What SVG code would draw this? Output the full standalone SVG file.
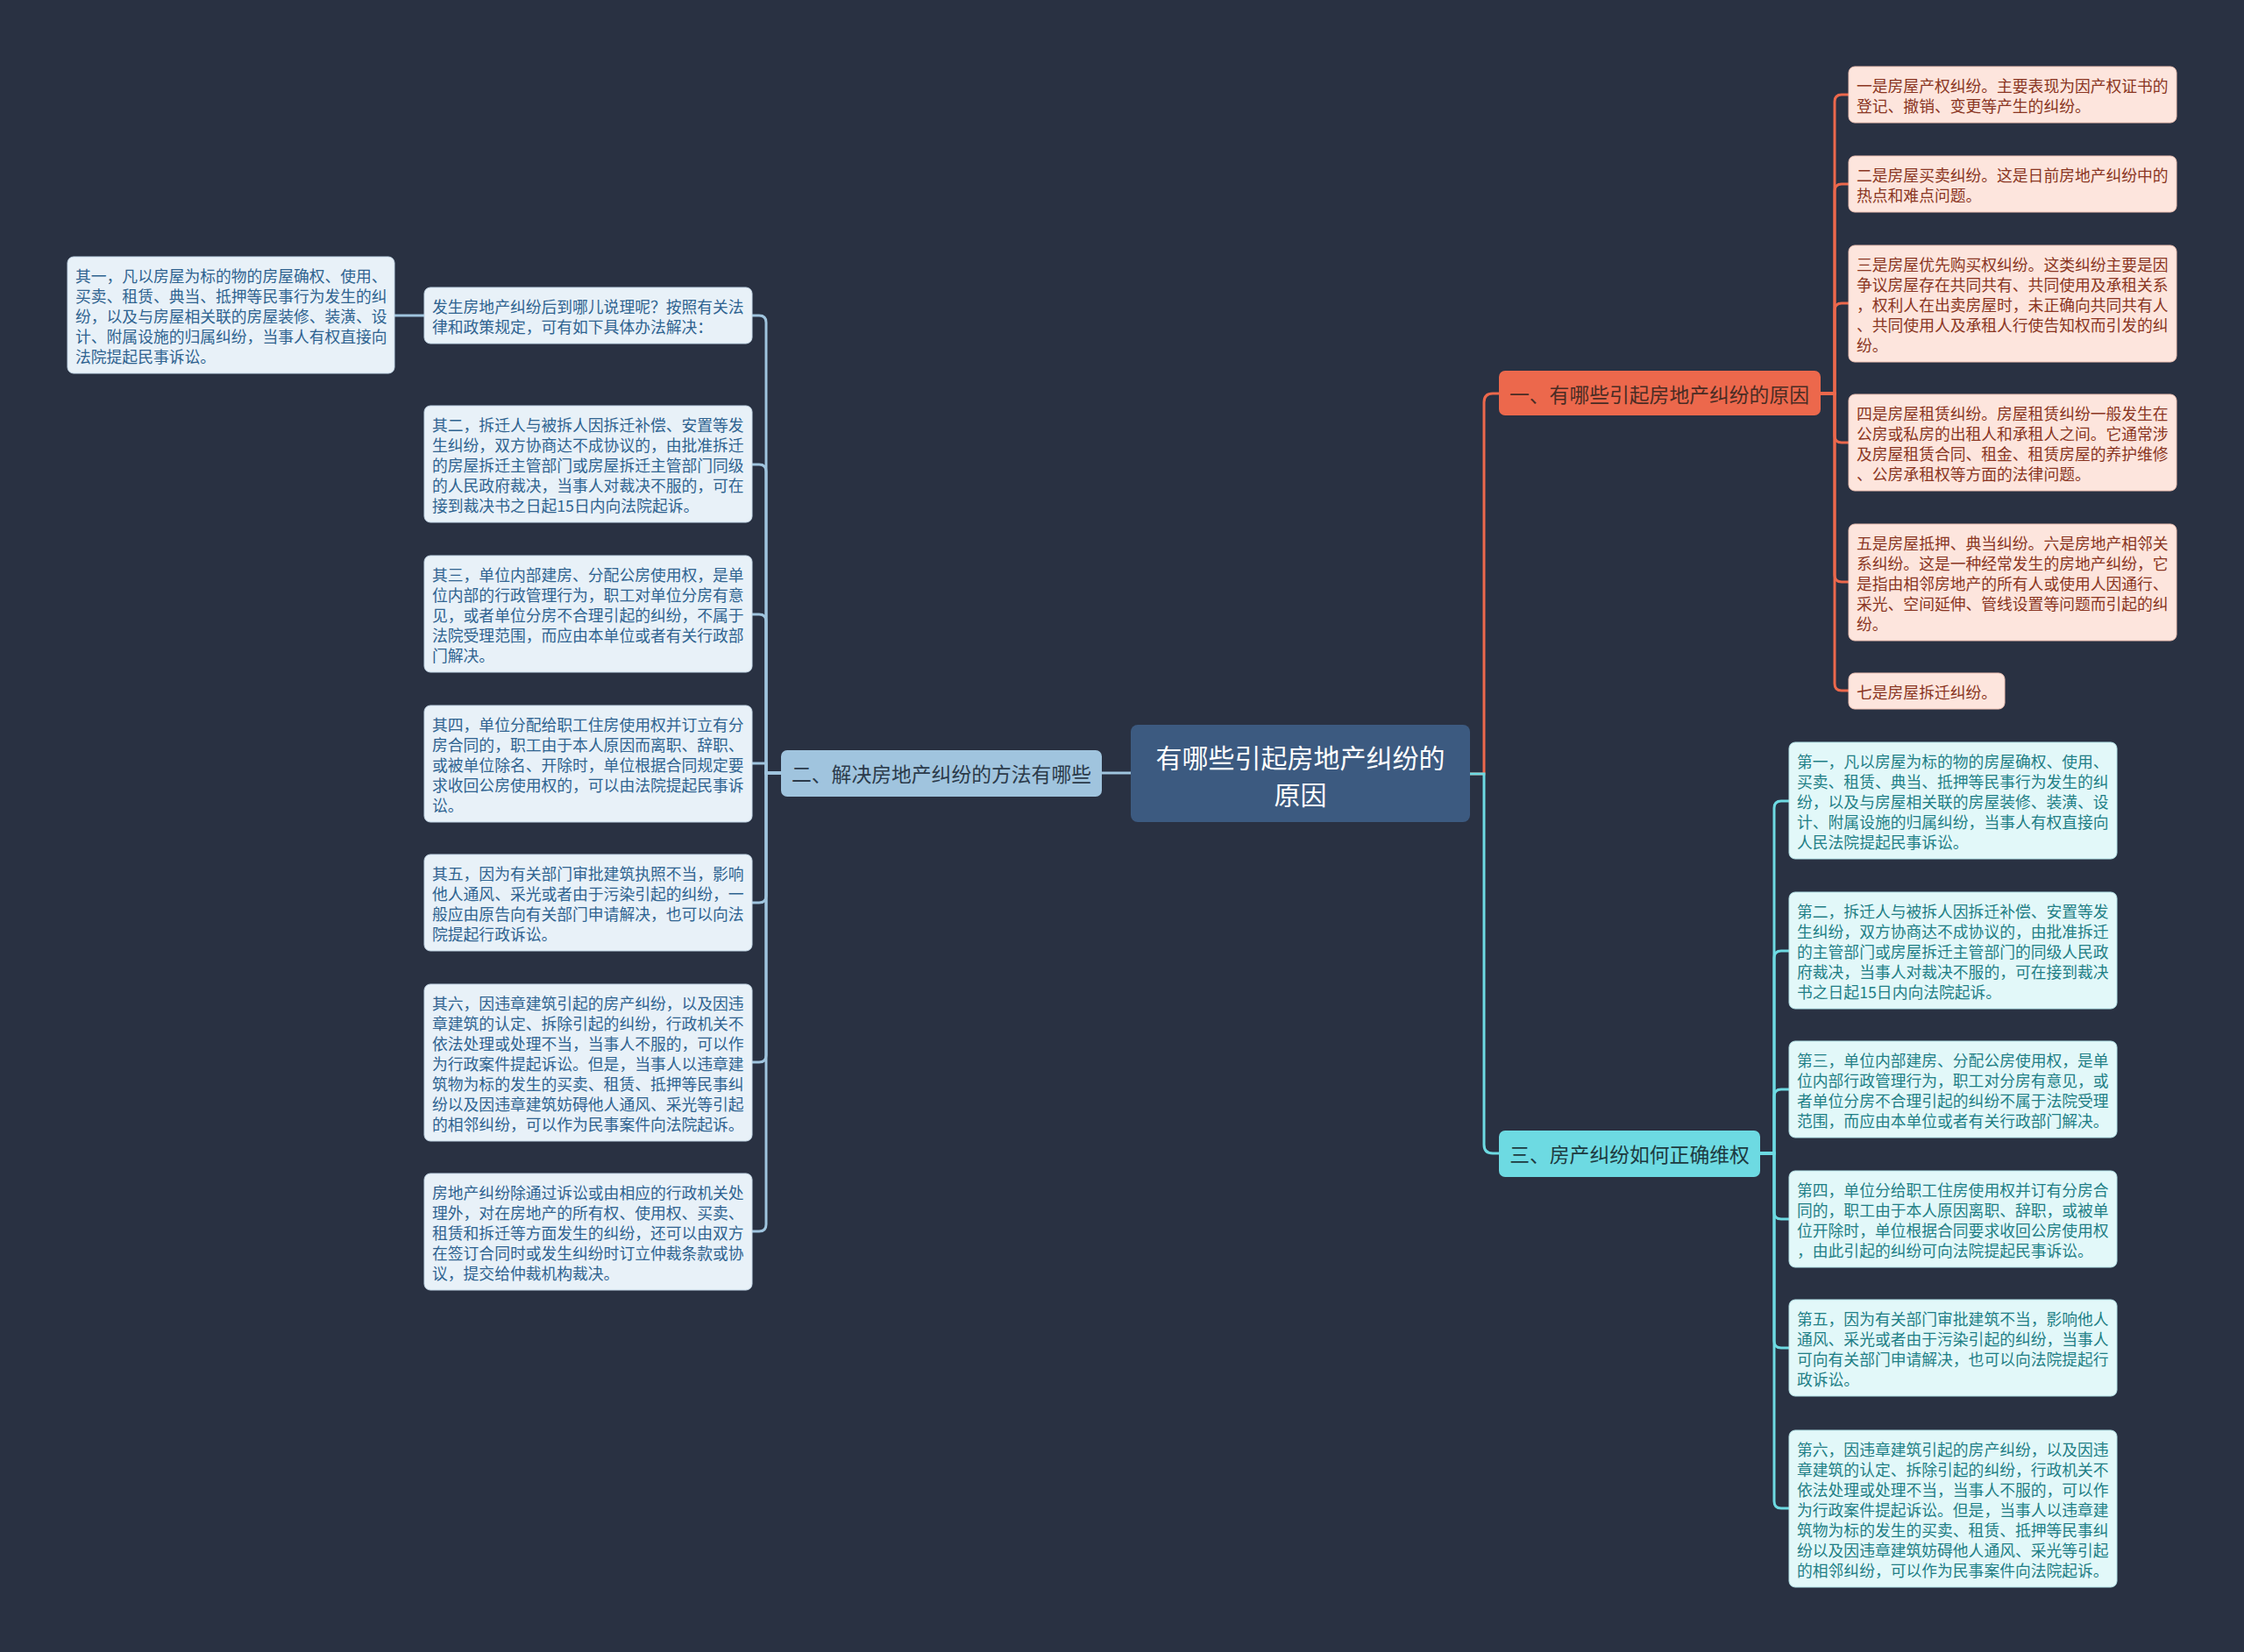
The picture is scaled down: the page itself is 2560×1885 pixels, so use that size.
<svg xmlns="http://www.w3.org/2000/svg" width="2560" height="1885" viewBox="0 0 2560 1885">
<style>
text{font-family:"Noto Sans CJK SC","Noto Sans",sans-serif;dominant-baseline:central}
.leaf{font-size:17.8px}
.lb rect{fill:#e8f1f8;stroke:#c3d6e6;stroke-width:1}
.lb text{fill:#2f6390}
.rd rect{fill:#fde5dd;stroke:#f0c3b5;stroke-width:1}
.rd text{fill:#8a3522}
.cy rect{fill:#e2f8f9;stroke:#b5e4e8;stroke-width:1}
.cy text{fill:#1f7f86}
.conn path{fill:none;stroke-width:3}
.cl{stroke:#9fc4de}
.cr{stroke:#ec684c}
.cc{stroke:#6ddae2}
.sec{font-size:22.8px}
</style>
<rect width="2560" height="1885" fill="#293142"/>
<g id="connectors" class="conn">
<path class="cl" d="M1290 882 H1257"/>
<path class="cr" d="M1677 883 H1693 V459 Q1693 449 1703 449 H1711"/>
<path class="cc" d="M1677 883 H1693 V1306 Q1693 1316 1703 1316 H1711"/>
<path class="cr" d="M2077 449 H2093 V116 Q2093 108 2101 108 H2109"/>
<path class="cr" d="M2077 449 H2093 V218 Q2093 210 2101 210 H2109"/>
<path class="cr" d="M2077 449 H2093 V354 Q2093 346 2101 346 H2109"/>
<path class="cr" d="M2077 449 H2093 V497 Q2093 505 2101 505 H2109"/>
<path class="cr" d="M2077 449 H2093 V656 Q2093 664 2101 664 H2109"/>
<path class="cr" d="M2077 449 H2093 V780 Q2093 788 2101 788 H2109"/>
<path class="cc" d="M2008 1316 H2024 V922 Q2024 914 2032 914 H2041"/>
<path class="cc" d="M2008 1316 H2024 V1093 Q2024 1085 2032 1085 H2041"/>
<path class="cc" d="M2008 1316 H2024 V1251 Q2024 1243 2032 1243 H2041"/>
<path class="cc" d="M2008 1316 H2024 V1383 Q2024 1391 2032 1391 H2041"/>
<path class="cc" d="M2008 1316 H2024 V1530 Q2024 1538 2032 1538 H2041"/>
<path class="cc" d="M2008 1316 H2024 V1713 Q2024 1721 2032 1721 H2041"/>
<path class="cl" d="M891 882 H874 V368 Q874 360 866 360 H858"/>
<path class="cl" d="M891 882 H874 V538 Q874 530 866 530 H858"/>
<path class="cl" d="M891 882 H874 V709 Q874 701 866 701 H858"/>
<path class="cl" d="M891 882 H874 V871 H858"/>
<path class="cl" d="M891 882 H874 V1022 Q874 1030 866 1030 H858"/>
<path class="cl" d="M891 882 H874 V1204 Q874 1212 866 1212 H858"/>
<path class="cl" d="M891 882 H874 V1397 Q874 1405 866 1405 H858"/>
<path class="cl" d="M484 360 H450"/>
</g>
<g id="center">
<rect x="1290" y="827" width="387" height="111" rx="8" fill="#3c5a80"/>
<text x="1483.5" y="863" font-size="30" fill="#ffffff" text-anchor="middle">有哪些引起房地产纠纷的</text>
<text x="1483.5" y="905" font-size="30" fill="#ffffff" text-anchor="middle">原因</text>
</g>
<g id="sec2">
<rect x="891" y="856" width="366" height="53" rx="7" fill="#a0c4de"/>
<text class="sec" x="1074" y="882" fill="#2b3a4a" text-anchor="middle">二、解决房地产纠纷的方法有哪些</text>
</g>
<g id="sec1">
<rect x="1710" y="423" width="367" height="51" rx="7" fill="#ec684c"/>
<text class="sec" x="1893" y="449" fill="#4a2c24" text-anchor="middle">一、有哪些引起房地产纠纷的原因</text>
</g>
<g id="sec3">
<rect x="1710" y="1290" width="298" height="53" rx="7" fill="#6ddae2"/>
<text class="sec" x="1859" y="1316" fill="#1d3a40" text-anchor="middle">三、房产纠纷如何正确维权</text>
</g>
<g id="r1" class="rd leaf">
<rect x="2109" y="76" width="374" height="64" rx="7"/>
<text x="2118" y="97">一是房屋产权纠纷。主要表现为因产权证书的</text>
<text x="2118" y="120">登记、撤销、变更等产生的纠纷。</text>
</g>
<g id="r2" class="rd leaf">
<rect x="2109" y="178" width="374" height="64" rx="7"/>
<text x="2118" y="199">二是房屋买卖纠纷。这是日前房地产纠纷中的</text>
<text x="2118" y="222">热点和难点问题。</text>
</g>
<g id="r3" class="rd leaf">
<rect x="2109" y="280" width="374" height="133" rx="7"/>
<text x="2118" y="301">三是房屋优先购买权纠纷。这类纠纷主要是因</text>
<text x="2118" y="324">争议房屋存在共同共有、共同使用及承租关系</text>
<text x="2118" y="347">，权利人在出卖房屋时，未正确向共同共有人</text>
<text x="2118" y="370">、共同使用人及承租人行使告知权而引发的纠</text>
<text x="2118" y="393">纷。</text>
</g>
<g id="r4" class="rd leaf">
<rect x="2109" y="450" width="374" height="110" rx="7"/>
<text x="2118" y="471">四是房屋租赁纠纷。房屋租赁纠纷一般发生在</text>
<text x="2118" y="494">公房或私房的出租人和承租人之间。它通常涉</text>
<text x="2118" y="517">及房屋租赁合同、租金、租赁房屋的养护维修</text>
<text x="2118" y="540">、公房承租权等方面的法律问题。</text>
</g>
<g id="r5" class="rd leaf">
<rect x="2109" y="598" width="374" height="133" rx="7"/>
<text x="2118" y="619">五是房屋抵押、典当纠纷。六是房地产相邻关</text>
<text x="2118" y="642">系纠纷。这是一种经常发生的房地产纠纷，它</text>
<text x="2118" y="665">是指由相邻房地产的所有人或使用人因通行、</text>
<text x="2118" y="688">采光、空间延伸、管线设置等问题而引起的纠</text>
<text x="2118" y="711">纷。</text>
</g>
<g id="r7" class="rd leaf">
<rect x="2109" y="768" width="178" height="41" rx="7"/>
<text x="2118" y="789">七是房屋拆迁纠纷。</text>
</g>
<g id="c1" class="cy leaf">
<rect x="2041" y="847" width="374" height="133" rx="7"/>
<text x="2050" y="868">第一，凡以房屋为标的物的房屋确权、使用、</text>
<text x="2050" y="891">买卖、租赁、典当、抵押等民事行为发生的纠</text>
<text x="2050" y="914">纷，以及与房屋相关联的房屋装修、装潢、设</text>
<text x="2050" y="937">计、附属设施的归属纠纷，当事人有权直接向</text>
<text x="2050" y="960">人民法院提起民事诉讼。</text>
</g>
<g id="c2" class="cy leaf">
<rect x="2041" y="1018" width="374" height="133" rx="7"/>
<text x="2050" y="1039">第二，拆迁人与被拆人因拆迁补偿、安置等发</text>
<text x="2050" y="1062">生纠纷，双方协商达不成协议的，由批准拆迁</text>
<text x="2050" y="1085">的主管部门或房屋拆迁主管部门的同级人民政</text>
<text x="2050" y="1108">府裁决，当事人对裁决不服的，可在接到裁决</text>
<text x="2050" y="1131">书之日起15日内向法院起诉。</text>
</g>
<g id="c3" class="cy leaf">
<rect x="2041" y="1188" width="374" height="110" rx="7"/>
<text x="2050" y="1209">第三，单位内部建房、分配公房使用权，是单</text>
<text x="2050" y="1232">位内部行政管理行为，职工对分房有意见，或</text>
<text x="2050" y="1255">者单位分房不合理引起的纠纷不属于法院受理</text>
<text x="2050" y="1278">范围，而应由本单位或者有关行政部门解决。</text>
</g>
<g id="c4" class="cy leaf">
<rect x="2041" y="1336" width="374" height="110" rx="7"/>
<text x="2050" y="1357">第四，单位分给职工住房使用权并订有分房合</text>
<text x="2050" y="1380">同的，职工由于本人原因离职、辞职，或被单</text>
<text x="2050" y="1403">位开除时，单位根据合同要求收回公房使用权</text>
<text x="2050" y="1426">，由此引起的纠纷可向法院提起民事诉讼。</text>
</g>
<g id="c5" class="cy leaf">
<rect x="2041" y="1483" width="374" height="110" rx="7"/>
<text x="2050" y="1504">第五，因为有关部门审批建筑不当，影响他人</text>
<text x="2050" y="1527">通风、采光或者由于污染引起的纠纷，当事人</text>
<text x="2050" y="1550">可向有关部门申请解决，也可以向法院提起行</text>
<text x="2050" y="1573">政诉讼。</text>
</g>
<g id="c6" class="cy leaf">
<rect x="2041" y="1632" width="374" height="179" rx="7"/>
<text x="2050" y="1653">第六，因违章建筑引起的房产纠纷，以及因违</text>
<text x="2050" y="1676">章建筑的认定、拆除引起的纠纷，行政机关不</text>
<text x="2050" y="1699">依法处理或处理不当，当事人不服的，可以作</text>
<text x="2050" y="1722">为行政案件提起诉讼。但是，当事人以违章建</text>
<text x="2050" y="1745">筑物为标的发生的买卖、租赁、抵押等民事纠</text>
<text x="2050" y="1768">纷以及因违章建筑妨碍他人通风、采光等引起</text>
<text x="2050" y="1791">的相邻纠纷，可以作为民事案件向法院起诉。</text>
</g>
<g id="l0" class="lb leaf">
<rect x="484" y="328" width="374" height="64" rx="7"/>
<text x="493" y="349">发生房地产纠纷后到哪儿说理呢？按照有关法</text>
<text x="493" y="372">律和政策规定，可有如下具体办法解决：</text>
</g>
<g id="l1" class="lb leaf">
<rect x="77" y="293" width="373" height="133" rx="7"/>
<text x="86" y="314">其一，凡以房屋为标的物的房屋确权、使用、</text>
<text x="86" y="337">买卖、租赁、典当、抵押等民事行为发生的纠</text>
<text x="86" y="360">纷，以及与房屋相关联的房屋装修、装潢、设</text>
<text x="86" y="383">计、附属设施的归属纠纷，当事人有权直接向</text>
<text x="86" y="406">法院提起民事诉讼。</text>
</g>
<g id="l2" class="lb leaf">
<rect x="484" y="463" width="374" height="133" rx="7"/>
<text x="493" y="484">其二，拆迁人与被拆人因拆迁补偿、安置等发</text>
<text x="493" y="507">生纠纷，双方协商达不成协议的，由批准拆迁</text>
<text x="493" y="530">的房屋拆迁主管部门或房屋拆迁主管部门同级</text>
<text x="493" y="553">的人民政府裁决，当事人对裁决不服的，可在</text>
<text x="493" y="576">接到裁决书之日起15日内向法院起诉。</text>
</g>
<g id="l3" class="lb leaf">
<rect x="484" y="634" width="374" height="133" rx="7"/>
<text x="493" y="655">其三，单位内部建房、分配公房使用权，是单</text>
<text x="493" y="678">位内部的行政管理行为，职工对单位分房有意</text>
<text x="493" y="701">见，或者单位分房不合理引起的纠纷，不属于</text>
<text x="493" y="724">法院受理范围，而应由本单位或者有关行政部</text>
<text x="493" y="747">门解决。</text>
</g>
<g id="l4" class="lb leaf">
<rect x="484" y="805" width="374" height="133" rx="7"/>
<text x="493" y="826">其四，单位分配给职工住房使用权并订立有分</text>
<text x="493" y="849">房合同的，职工由于本人原因而离职、辞职、</text>
<text x="493" y="872">或被单位除名、开除时，单位根据合同规定要</text>
<text x="493" y="895">求收回公房使用权的，可以由法院提起民事诉</text>
<text x="493" y="918">讼。</text>
</g>
<g id="l5" class="lb leaf">
<rect x="484" y="975" width="374" height="110" rx="7"/>
<text x="493" y="996">其五，因为有关部门审批建筑执照不当，影响</text>
<text x="493" y="1019">他人通风、采光或者由于污染引起的纠纷，一</text>
<text x="493" y="1042">般应由原告向有关部门申请解决，也可以向法</text>
<text x="493" y="1065">院提起行政诉讼。</text>
</g>
<g id="l6" class="lb leaf">
<rect x="484" y="1123" width="374" height="179" rx="7"/>
<text x="493" y="1144">其六，因违章建筑引起的房产纠纷，以及因违</text>
<text x="493" y="1167">章建筑的认定、拆除引起的纠纷，行政机关不</text>
<text x="493" y="1190">依法处理或处理不当，当事人不服的，可以作</text>
<text x="493" y="1213">为行政案件提起诉讼。但是，当事人以违章建</text>
<text x="493" y="1236">筑物为标的发生的买卖、租赁、抵押等民事纠</text>
<text x="493" y="1259">纷以及因违章建筑妨碍他人通风、采光等引起</text>
<text x="493" y="1282">的相邻纠纷，可以作为民事案件向法院起诉。</text>
</g>
<g id="l7" class="lb leaf">
<rect x="484" y="1339" width="374" height="133" rx="7"/>
<text x="493" y="1360">房地产纠纷除通过诉讼或由相应的行政机关处</text>
<text x="493" y="1383">理外，对在房地产的所有权、使用权、买卖、</text>
<text x="493" y="1406">租赁和拆迁等方面发生的纠纷，还可以由双方</text>
<text x="493" y="1429">在签订合同时或发生纠纷时订立仲裁条款或协</text>
<text x="493" y="1452">议，提交给仲裁机构裁决。</text>
</g>
</svg>
